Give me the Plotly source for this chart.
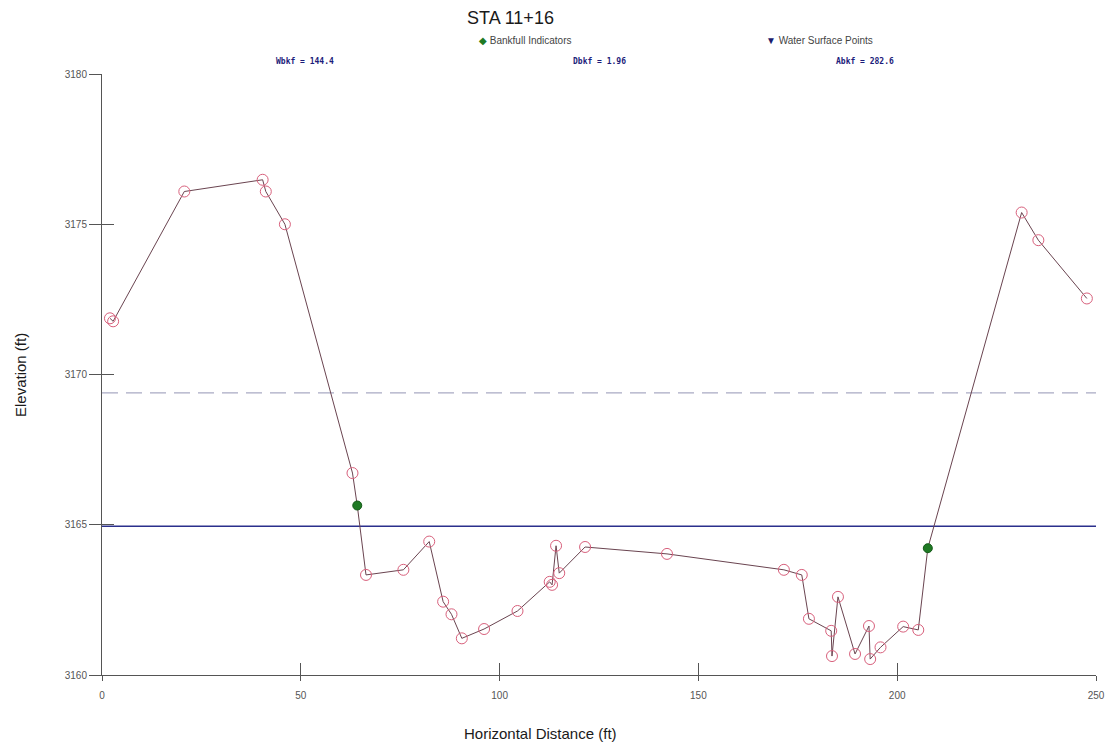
import plotly.graph_objects as go

# ---- data ----
station = [2.0, 2.8, 20.7, 40.4, 41.2, 46.0, 63.0, 64.2, 66.4, 75.8, 82.3, 85.8, 87.9,
           90.5, 96.1, 104.5, 112.6, 113.2, 114.2, 115.0, 121.5, 142.1, 171.5, 176.0,
           177.8, 183.4, 183.6, 185.1, 189.4, 192.9, 193.2, 195.8, 201.5, 205.3, 207.7,
           231.3, 235.5, 247.7]
elevation = [3171.87, 3171.77, 3176.09, 3176.48, 3176.09, 3175.00, 3166.72, 3165.64,
             3163.33, 3163.50, 3164.44, 3162.44, 3162.02, 3161.22, 3161.53, 3162.13,
             3163.10, 3163.00, 3164.30, 3163.39, 3164.26, 3164.03, 3163.50, 3163.33,
             3161.87, 3161.47, 3160.63, 3162.60, 3160.70, 3161.63, 3160.53, 3160.92,
             3161.61, 3161.50, 3164.22, 3175.39, 3174.47, 3172.53]
bankfull_station = [64.2, 207.7]
bankfull_elevation = [3165.64, 3164.22]
water_surface_elev = 3164.95
flood_prone_elev = 3169.39
line_extent = [0, 250]

x_ticks = [0, 50, 100, 150, 200, 250]
y_ticks = [3160, 3165, 3170, 3175, 3180]
chart_title = "STA 11+16"
stats = [("Wbkf = 144.4", 305), ("Dbkf = 1.96", 599), ("Abkf = 282.6", 865)]

W, H = 1110, 749
L, T = 102, 74
pw, ph = 994, 601
R, B = W - L - pw, H - T - ph


def px_x(p):
    return (p - L) / pw


def px_y(p):
    return (T + ph - p) / ph


bk_set = set(bankfull_station)
ground_x = [s for s in station if s not in bk_set]
ground_y = [e for s, e in zip(station, elevation) if s not in bk_set]

fig = go.Figure()

# flood-prone (dashed) and water surface (solid) lines
fig.add_trace(go.Scatter(x=line_extent, y=[flood_prone_elev] * 2, mode="lines",
                         line=dict(color="#a9aac4", width=1.2, dash="16px,8px"),
                         hoverinfo="skip", showlegend=False))
fig.add_trace(go.Scatter(x=line_extent, y=[water_surface_elev] * 2, mode="lines",
                         line=dict(color="#2b2f8c", width=1.3),
                         hoverinfo="skip", showlegend=False))

# ground profile line
fig.add_trace(go.Scatter(x=station, y=elevation, mode="lines",
                         line=dict(color="#6a4450", width=1),
                         showlegend=False))
# survey points
fig.add_trace(go.Scatter(x=ground_x, y=ground_y, mode="markers",
                         marker=dict(symbol="circle-open", size=11, color="#d8607c",
                                     line=dict(width=1, color="#d8607c")),
                         showlegend=False))
# bankfull indicators
fig.add_trace(go.Scatter(x=bankfull_station, y=bankfull_elevation, mode="markers",
                         marker=dict(symbol="circle", size=9, color="#1f7a24",
                                     line=dict(width=1, color="#145a18")),
                         showlegend=False))
# invisible trace on overlay axes (for crossing ticks)
fig.add_trace(go.Scatter(x=[line_extent[0]], y=[y_ticks[0]], xaxis="x2", yaxis="y2",
                         mode="markers", marker=dict(opacity=0), hoverinfo="skip",
                         showlegend=False))

tickfont = dict(family="Liberation Sans Narrow, Arial Narrow, Liberation Sans, sans-serif",
                size=10, color="#555555")
axis_common = dict(showgrid=False, zeroline=False, showline=True, automargin=False,
                   linecolor="#555555", linewidth=1, tickcolor="#555555", tickwidth=1)

fig.update_layout(
    width=W, height=H,
    margin=dict(l=L, r=R, t=T, b=B, autoexpand=False),
    paper_bgcolor="white", plot_bgcolor="white",
    showlegend=False,
    xaxis=dict(range=[x_ticks[0], x_ticks[-1]], tickvals=x_ticks, ticks="outside",
               ticklen=5, tickfont=tickfont, ticklabelstandoff=6,
               ticklabeloverflow="allow", **axis_common),
    yaxis=dict(range=[y_ticks[0], y_ticks[-1]], tickvals=y_ticks, ticks="outside",
               ticklen=12, tickfont=tickfont, ticklabeloverflow="allow", **axis_common),
    xaxis2=dict(range=[x_ticks[0], x_ticks[-1]], tickvals=x_ticks, ticks="inside",
                ticklen=12, showticklabels=False, overlaying="x", anchor="y2",
                **axis_common),
    yaxis2=dict(range=[y_ticks[0], y_ticks[-1]], tickvals=y_ticks, ticks="inside",
                ticklen=12, showticklabels=False, overlaying="y", anchor="x2",
                **axis_common),
)

base = dict(xref="paper", yref="paper", showarrow=False, xanchor="center",
            yanchor="middle")
ann = []
ann.append(dict(text=chart_title, x=px_x(510), y=px_y(18),
                font=dict(family="Liberation Sans, Arial", size=18, color="#1a1a1a"),
                **base))
leg_font = dict(family="Liberation Sans Narrow, Arial Narrow, Liberation Sans", size=10,
                color="#444444")
ann.append(dict(text="<span style='color:#1f7a24'>◆</span> Bankfull Indicators",
                x=px_x(477), y=px_y(40), font=leg_font,
                **{**base, "xanchor": "left"}))
ann.append(dict(text="<span style='color:#1c1c6e'>▼</span> Water Surface Points",
                x=px_x(764), y=px_y(40), font=leg_font,
                **{**base, "xanchor": "left"}))
for txt, cx in stats:
    ann.append(dict(text="<b>" + txt + "</b>", x=px_x(cx), y=px_y(61),
                    font=dict(family="DejaVu Sans Mono, monospace", size=8,
                              color="#1c1c7a"), **base))
ann.append(dict(text="Elevation (ft)", x=px_x(20), y=px_y(375), textangle=-90,
                font=dict(family="Liberation Sans, Arial", size=15, color="#1a1a1a"),
                **base))
ann.append(dict(text="Horizontal Distance (ft)", x=px_x(540), y=px_y(733),
                font=dict(family="Liberation Sans, Arial", size=15, color="#1a1a1a"),
                **base))
fig.update_layout(annotations=ann)

post = ("document.body.style.margin='0';"
        "document.documentElement.style.overflow='hidden';"
        "document.body.style.overflow='hidden';")
fig.write_html("out.html", post_script=post, config={"displayModeBar": False})
